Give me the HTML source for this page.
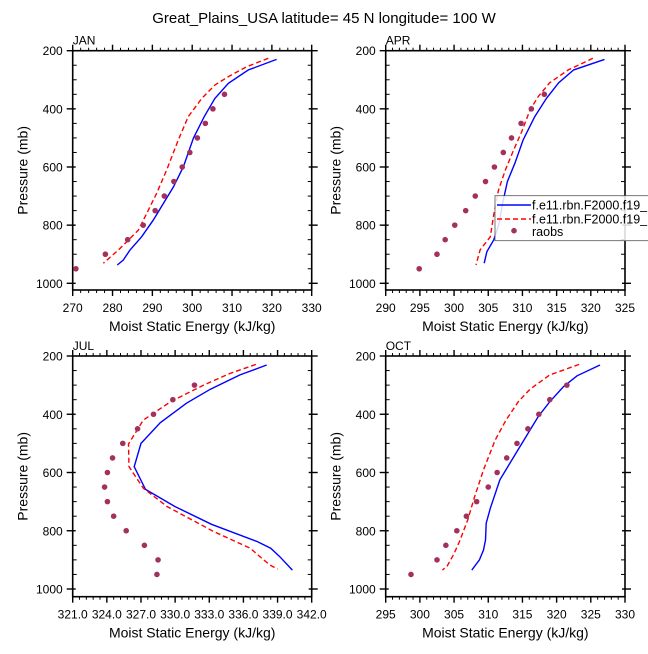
<!DOCTYPE html>
<html><head><meta charset="utf-8"><style>
html,body{margin:0;padding:0;background:#fff;}
svg text{font-family:"Liberation Sans",Arial,sans-serif;fill:#000;}
</style></head>
<body>
<svg id="fig" width="648" height="649" viewBox="0 0 648 649" xmlns="http://www.w3.org/2000/svg">
<text x="324" y="23" font-size="15" text-anchor="middle">Great_Plains_USA  latitude= 45 N longitude= 100 W</text>
</svg>
<script>
// ---- data ----
const presTicks = [200,400,600,800,1000];
const obsPres = [350,400,450,500,550,600,650,700,750,800,850,900,950];

const janObs = [308.1,305.2,303.3,301.3,299.4,297.5,295.4,293.0,290.7,287.7,283.8,278.2,270.8];
const janBlueX = [321.2,314.1,309.1,305.7,303.0,300.3,297.8,295.3,292.8,290.2,287.3,284.4,282.7,281.2];
const janBlueP = [230,266,312,364,427,501,599,668,725,783,840,885,920,937];
const janRedX = [319.1,313.7,309.1,305.7,302.4,299.0,296.5,293.6,291.1,288.6,286.5,284.0,281.5,277.7];
const janRedP = [226,255,289,318,364,427,507,610,690,759,817,851,885,931];

const aprObs = [313.2,311.3,309.8,308.4,307.2,305.9,304.6,303.1,301.7,300.1,298.7,297.5,294.9];
const aprBlueX = [322.0,317.5,315.3,313.5,311.8,310.1,308.9,307.8,307.1,306.6,305.8,304.8,304.4];
const aprBlueP = [230,266,310,364,427,507,587,650,725,794,851,891,931];
const aprRedX = [320.3,316.7,314.0,312.3,311.1,309.9,308.7,307.5,306.5,305.8,305.3,303.8,303.2];
const aprRedP = [226,266,310,358,404,478,542,610,679,765,840,885,937];

const julObsP = [300,350,400,450,500,550,600,650,700,750,800,850,900,950];
const julObs = [331.7,329.8,328.1,326.7,325.4,324.5,324.05,323.8,324.05,324.6,325.7,327.3,328.5,328.4];
const julBlueX = [338.05,335.7,333.1,331.0,328.7,327.0,326.4,327.4,330.0,333.2,337.2,338.4,339.2,340.3];
const julBlueP = [231,265,314,362,429,500,580,658,717,778,837,860,889,935];
const julRedX = [337.1,334.8,332.5,329.6,327.2,325.9,325.95,327.2,329.3,333.4,336.6,337.6,338.3,339.0];
const julRedP = [229,260,300,357,420,502,580,654,717,803,860,894,917,932];

const octObsP = [300,350,400,450,500,550,600,650,700,750,800,850,900,950];
const octObs = [321.5,319.0,317.4,315.8,314.2,312.7,311.3,310.0,308.3,306.8,305.4,303.8,302.5,298.7];
const octBlueX = [326.35,323.0,321.0,319.0,317.3,314.2,311.7,310.3,309.7,309.6,309.3,308.7,307.6];
const octBlueP = [231,268,305,357,408,528,625,723,774,832,866,900,935];
const octRedX = [323.3,319.0,316.1,314.4,312.6,311.0,309.3,308.0,307.0,305.8,304.9,304.0,303.3];
const octRedP = [229,265,314,357,420,489,591,683,763,837,883,921,935];

const janXTicks = [270,280,290,300,310,320,330];
const aprXTicks = [290,295,300,305,310,315,320,325];
const julXTicks = ['321.0','324.0','327.0','330.0','333.0','336.0','339.0','342.0'];
const octXTicks = [295,300,305,310,315,320,325,330];
const legendLabels = ['f.e11.rbn.F2000.f19_','f.e11.rbn.F2000.f19_','raobs'];

// ---- drawing ----
const NS='http://www.w3.org/2000/svg';
const svg=document.getElementById('fig');
function mk(tag,attrs,parent){const e=document.createElementNS(NS,tag);for(const k in attrs)e.setAttribute(k,attrs[k]);(parent||svg).appendChild(e);return e;}

function panel(cfg){
  const g=mk('g',{});
  
  
  const L=cfg.L,R=cfg.R,T=cfg.T,B=cfg.B;
  const xmin=cfg.xmin,xmax=cfg.xmax;
  const p1000=cfg.p1000;
  const xs=v=>L+(v-xmin)/(xmax-xmin)*(R-L);
  const ys=p=>T+(p-200)/800*(p1000-T);
  const fr=mk('rect',{x:L,y:T,width:R-L,height:B-T,fill:'none',stroke:'#000','stroke-width':1.6},g);
  
  
  for(let p=250;p<=1000;p+=50){
    const y=ys(p);const major=(p%200===0);
    if(major){
      mk('line',{x1:L-6,y1:y,x2:L+3,y2:y,stroke:'#000','stroke-width':1.4},g);
      mk('line',{x1:R-3,y1:y,x2:R+6,y2:y,stroke:'#000','stroke-width':1.4},g);
    }else{
      mk('line',{x1:L,y1:y,x2:L+4,y2:y,stroke:'#000','stroke-width':1},g);
      mk('line',{x1:R-4,y1:y,x2:R,y2:y,stroke:'#000','stroke-width':1},g);
    }
  }
  mk('line',{x1:L-6,y1:T,x2:L,y2:T,stroke:'#000','stroke-width':1.4},g);
  mk('line',{x1:R,y1:T,x2:R+6,y2:T,stroke:'#000','stroke-width':1.4},g);
  presTicks.forEach(p=>{
    const t=mk('text',{x:L-10,y:ys(p)+4.5,'font-size':12,'text-anchor':'end'},g);
    t.textContent=p;
    
    
  });
  const step=cfg.minor;
  for(let v=xmin;v<=xmax+1e-6;v+=step){
    const x=xs(v);
    const rel=(v-xmin)/cfg.major;
    const major=Math.abs(rel-Math.round(rel))<1e-6;
    const len=major?6:3;
    mk('line',{x1:x,y1:T,x2:x,y2:T-len,stroke:'#000','stroke-width':major?1.4:1},g);
    mk('line',{x1:x,y1:B,x2:x,y2:B+len,stroke:'#000','stroke-width':major?1.4:1},g);
  }
  cfg.xt.forEach(v=>{
    const t=mk('text',{x:xs(parseFloat(v)),y:B+22,'font-size':12,'text-anchor':'middle'},g);
    t.textContent=v;
    
    
  });
  const lab=mk('text',{x:L,y:T-6,'font-size':12},g);
  lab.textContent=cfg.label;
  
  
  const xt=mk('text',{x:(L+R)/2,y:B+41,'font-size':14,'text-anchor':'middle'},g);
  xt.textContent='Moist Static Energy (kJ/kg)';
  
  
  const yt=mk('text',{x:0,y:0,'font-size':14,'text-anchor':'middle',transform:'translate('+(L-45)+','+((T+B)/2)+') rotate(-90)'},g);
  yt.textContent='Pressure (mb)';
  
  
  const bp=cfg.bx.map((v,i)=>xs(v).toFixed(1)+','+ys(cfg.bp[i]).toFixed(1)).join(' ');
  const bl=mk('polyline',{points:bp,fill:'none',stroke:'#0000ff','stroke-width':1.4},g);
  
  
  const rp=cfg.rx.map((v,i)=>xs(v).toFixed(1)+','+ys(cfg.rp[i]).toFixed(1)).join(' ');
  const rl=mk('polyline',{points:rp,fill:'none',stroke:'#ff0000','stroke-width':1.4,'stroke-dasharray':'5,3'},g);
  
  
  cfg.ox.forEach((v,i)=>{
    const c=mk('circle',{cx:xs(v),cy:ys(cfg.op[i]),r:2.8,fill:'#a3315e'},g);
    
    
  });
}

panel({name:'jan',label:'JAN',L:72.7,R:311.7,T:50.7,B:290,p1000:283.3,xmin:270,xmax:330,major:10,minor:2,xt:janXTicks,
  bx:janBlueX,bp:janBlueP,rx:janRedX,rp:janRedP,ox:janObs,op:obsPres});
panel({name:'apr',label:'APR',L:385.7,R:625,T:50.7,B:290,p1000:283.3,xmin:290,xmax:325,major:5,minor:1,xt:aprXTicks,
  bx:aprBlueX,bp:aprBlueP,rx:aprRedX,rp:aprRedP,ox:aprObs,op:obsPres});
panel({name:'jul',label:'JUL',L:72.7,R:311.7,T:356,B:596.7,p1000:589,xmin:321,xmax:342,major:3,minor:0.6,xt:julXTicks,
  bx:julBlueX,bp:julBlueP,rx:julRedX,rp:julRedP,ox:julObs,op:julObsP});
panel({name:'oct',label:'OCT',L:385.7,R:625,T:356,B:596.7,p1000:589,xmin:295,xmax:330,major:5,minor:1,xt:octXTicks,
  bx:octBlueX,bp:octBlueP,rx:octRedX,rp:octRedP,ox:octObs,op:octObsP});

const lg=mk('g',{});


mk('rect',{x:495,y:195.7,width:160,height:45,fill:'#fff','fill-opacity':0.85,stroke:'#555','stroke-width':0.8},lg);
const ly=[205,219,231.7];
const l1=mk('line',{x1:497,y1:ly[0],x2:531,y2:ly[0],stroke:'#0000ff','stroke-width':1.4},lg);


const l2=mk('line',{x1:497,y1:ly[1],x2:531,y2:ly[1],stroke:'#ff0000','stroke-width':1.4,'stroke-dasharray':'5,3'},lg);


const l3=mk('circle',{cx:514,cy:ly[2]-1,r:2.8,fill:'#a3315e'},lg);


legendLabels.forEach((s,i)=>{
  const t=mk('text',{x:532,y:ly[i]+4.5,'font-size':12.5},lg);
  t.textContent=s;
  
  
});
</script>
</body></html>
